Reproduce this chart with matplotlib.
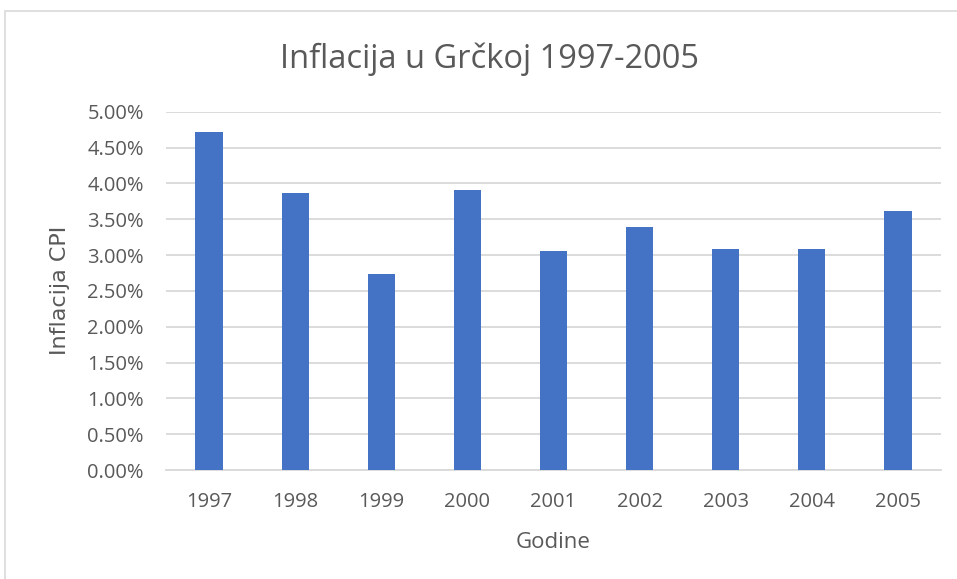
import matplotlib.pyplot as plt
from matplotlib.patches import Rectangle
from matplotlib.ticker import FuncFormatter, MultipleLocator

# values (percent)
years = ["1997", "1998", "1999", "2000", "2001", "2002", "2003", "2004", "2005"]
inflation = [4.71, 3.86, 2.74, 3.91, 3.05, 3.39, 3.08, 3.09, 3.62]

bar_color = "#4472C4"
text_color = "#595959"
grid_color = "#D9D9D9"

plt.rcParams["font.family"] = ["Open Sans", "DejaVu Sans"]

W, H = 957, 579
fig = plt.figure(figsize=(W / 100, H / 100), dpi=100)

# outer chart border
fig.patches.append(Rectangle((5 / W, -0.1), 1.2, 1 - 11 / H + 0.1,
                             transform=fig.transFigure, fill=False,
                             edgecolor=grid_color, linewidth=1.2))

ax = fig.add_axes([166 / W, 109 / H, (941 - 166) / W, (470 - 111.7) / H])

x = range(len(years))
ax.bar(x, inflation, width=0.317, color=bar_color, zorder=3)

ax.set_xlim(-0.5, len(years) - 0.5)
ax.set_ylim(0, 5)
ax.yaxis.set_major_locator(MultipleLocator(0.5))
ax.yaxis.set_major_formatter(FuncFormatter(lambda v, p: f"{v:.2f}%"))
ax.set_xticks(list(x))
ax.set_xticklabels(years)

ax.grid(axis="y", color=grid_color, linewidth=1.3, zorder=0)
for s in ["top", "right", "left"]:
    ax.spines[s].set_visible(False)
ax.spines["bottom"].set_color(grid_color)
ax.spines["bottom"].set_linewidth(1.3)
ax.tick_params(axis="both", length=0, colors=text_color, labelsize=14.5)
ax.tick_params(axis="x", pad=16)
ax.tick_params(axis="y", pad=16)

ax.set_xlabel("Godine", color=text_color, fontsize=16, labelpad=14)
ax.set_ylabel("Inflacija CPI", color=text_color, fontsize=16,
              family="DejaVu Sans")
ax.yaxis.set_label_coords((70 - 166) / 775, 0.5)

fig.text(489 / W, 1 - 68.3 / H, "Inflacija u Grčkoj 1997-2005", ha="center",
         va="baseline", color=text_color, fontsize=23.5)

fig.savefig("out.png", dpi=100)
